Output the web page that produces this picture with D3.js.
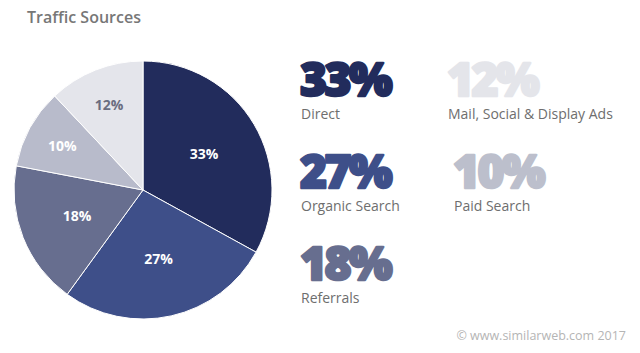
<!DOCTYPE html>
<html><head><meta charset="utf-8">
<script src="https://cdn.jsdelivr.net/npm/d3@7"></script>
<style>body{margin:0;background:#fff}svg{display:block}</style>
</head><body>
<svg id="c" width="640" height="353"></svg>
<script>
const categories = ["Direct","Organic Search","Referrals","Paid Search","Mail, Social & Display Ads"];
const values = [33,27,18,10,12];
const colors = ["#222c5c","#3e4f89","#676e8f","#b8bbcb","#e4e5eb"];
const labelColors = ["#fff","#fff","#fff","#fff","#6a6d80"];
const bigColors = ["#222c5c","#3e4f89","#676e8f","#bcbfcc","#e4e5ea"];
// legend grid positions (column, row) for each category
const gridCol = [0,0,0,1,1];
const gridRow = [0,1,2,1,0];

const svg = d3.select("#c");
svg.append("text").attr("x",27).attr("y",23).text("Traffic Sources")
  .attr("font-family","Open Sans").attr("font-weight",600).attr("font-size",16).attr("fill","#777");

const cx=143, cy=190, R=129;
const pie = d3.pie().sort(null).value(d=>d)(values);
const arc = d3.arc().innerRadius(0).outerRadius(R);
const labR = v => v <= 12 ? 92 : 71;
const g = svg.append("g").attr("transform",`translate(${cx},${cy})`);
g.selectAll("path").data(pie).join("path").attr("d",arc)
  .attr("fill",(d,i)=>colors[i]).attr("stroke","#fff").attr("stroke-width",1);
g.selectAll("text").data(pie).join("text")
  .attr("transform",d=>`translate(${d3.arc().innerRadius(labR(d.data)).outerRadius(labR(d.data)).centroid(d)})`)
  .attr("text-anchor","middle").attr("dy","0.36em")
  .attr("font-family","Open Sans").attr("font-weight",700).attr("font-size",14)
  .attr("fill",(d,i)=>labelColors[i]).text(d=>d.data+"%");

const colX = d3.scaleOrdinal().domain([0,1]).range([299,446]);
const rowY = d3.scaleLinear().domain([0,1]).range([96,188]);
const L = svg.append("g");
categories.forEach((c,i)=>{
  const x = colX(gridCol[i]) + (i===3?6:0), y = rowY(gridRow[i]);
  L.append("text").attr("x",x+1).attr("y",y).text(values[i]+"%")
    .attr("font-family","Open Sans").attr("font-weight",800).attr("font-size",46)
    .attr("letter-spacing",-2.5).attr("fill",bigColors[i])
    .attr("stroke",bigColors[i]).attr("stroke-width",2.5).attr("stroke-linejoin","round");
  L.append("text").attr("x",x+2).attr("y",y+23).text(c)
    .attr("font-family","Open Sans").attr("font-size",14).attr("fill","#6e6e6e");
});
svg.append("text").attr("x",626).attr("y",340).attr("text-anchor","end")
  .text("© www.similarweb.com 2017")
  .attr("font-family","Open Sans").attr("font-size",12.5).attr("fill","#b5b5b5");
</script>
</body></html>
